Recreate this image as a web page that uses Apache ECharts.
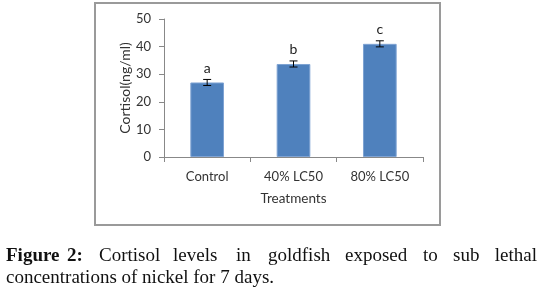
<!DOCTYPE html>
<html>
<head>
<meta charset="utf-8">
<script src="https://cdn.jsdelivr.net/npm/echarts@6/dist/echarts.min.js"></script>
<style>html,body{margin:0;padding:0;background:#fff;}#c{width:542px;height:292px;}</style>
</head>
<body>
<div id="c"></div>
<script>
const categories = ['Control', '40% LC50', '80% LC50'];
const cortisol = [27, 33.7, 41];
const errors = [1.1, 1.1, 1.1];
const letters = ['a', 'b', 'c'];
const yTicks = [0, 10, 20, 30, 40, 50];
const yAxisTitle = 'Cortisol(ng/ml)';
const xAxisTitle = 'Treatments';
const captionLine1 = [['Figure', true], ['2:', true], ['Cortisol', false], ['levels', false], ['in', false], ['goldfish', false], ['exposed', false], ['to', false], ['sub', false], ['lethal', false]];
const captionLine2 = 'concentrations of nickel for 7 days.';

const chart = echarts.init(document.getElementById('c'));
const axisFont = 'Lato, "Open Sans", sans-serif';
const serif = '"Liberation Serif", "DejaVu Serif", serif';
const wordX = [6, 67, 99, 173, 236, 268, 345, 423, 453, 495];

const graphics = [{
  type: 'rect', shape: {x: 95, y: 3, width: 345, height: 222},
  style: {fill: 'none', stroke: '#9a9a9a', lineWidth: 2}, z: 0
}];
captionLine1.forEach((w, i) => {
  const last = i === captionLine1.length - 1;
  graphics.push({
    type: 'text', x: last ? 537 : wordX[i], y: 256,
    style: {text: w[0], font: (w[1] ? 'bold ' : '') + '19px ' + serif, fill: '#111', align: last ? 'right' : 'left', verticalAlign: 'middle'}
  });
});
graphics.push({
  type: 'text', x: 6, y: 278,
  style: {text: captionLine2, font: '19px ' + serif, fill: '#111', align: 'left', verticalAlign: 'middle'}
});

chart.setOption({
  animation: false,
  grid: {left: 164, right: 119, top: 19, bottom: 135},
  xAxis: {
    type: 'category', data: categories,
    name: xAxisTitle, nameLocation: 'middle', nameGap: 35,
    nameTextStyle: {fontFamily: axisFont, fontSize: 13.5, color: '#333'},
    axisLine: {lineStyle: {color: '#888', width: 1}},
    axisTick: {show: true, length: 5, lineStyle: {color: '#888'}},
    axisLabel: {fontFamily: axisFont, fontSize: 13, color: '#333', margin: 13}
  },
  yAxis: {
    type: 'value', min: yTicks[0], max: yTicks[yTicks.length - 1], interval: yTicks[1] - yTicks[0],
    name: yAxisTitle, nameLocation: 'middle', nameGap: 31,
    nameTextStyle: {fontFamily: axisFont, fontSize: 14, color: '#333'},
    axisLine: {show: true, lineStyle: {color: '#888', width: 1}},
    axisTick: {show: true, length: 5, lineStyle: {color: '#888'}},
    axisLabel: {fontFamily: axisFont, fontSize: 13, color: '#333', margin: 13},
    splitLine: {show: false}
  },
  series: [{
    type: 'bar', data: cortisol, barWidth: '39%',
    itemStyle: {color: '#4F81BD', borderColor: '#7fa3d3', borderWidth: 1}
  }, {
    type: 'custom',
    data: cortisol.map((v, i) => [i, v, errors[i]]),
    z: 5,
    renderItem: function (params, api) {
      const x = api.coord([api.value(0), api.value(1)])[0];
      const top = api.coord([api.value(0), api.value(1) + api.value(2)])[1];
      const bot = api.coord([api.value(0), api.value(1) - api.value(2)])[1];
      const cap = 4;
      const st = {stroke: '#000', lineWidth: 1};
      return {
        type: 'group', children: [
          {type: 'line', shape: {x1: x, y1: top, x2: x, y2: bot}, style: st},
          {type: 'line', shape: {x1: x - cap, y1: top, x2: x + cap, y2: top}, style: st},
          {type: 'line', shape: {x1: x - cap, y1: bot, x2: x + cap, y2: bot}, style: st},
          {type: 'text', x: x, y: top - 4, style: {text: letters[params.dataIndex], font: '14px ' + axisFont, fill: '#222', align: 'center', verticalAlign: 'bottom'}}
        ]
      };
    }
  }],
  graphic: graphics
});
</script>
</body>
</html>
